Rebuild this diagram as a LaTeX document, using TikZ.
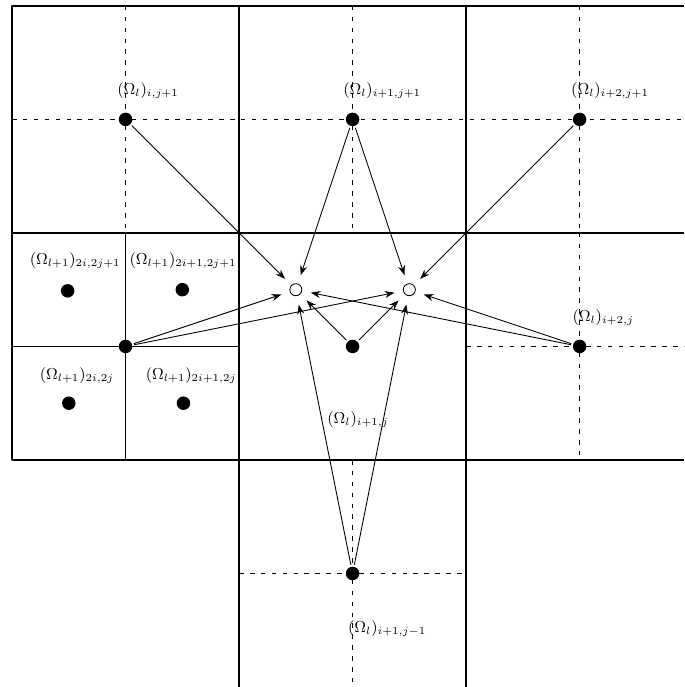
\documentclass[tikz,border=0pt]{standalone}
\usepackage{amsmath,amssymb}
\usepackage{tikz}
\usetikzlibrary{arrows.meta}

\begin{document}
\begin{tikzpicture}[
    x=4.54cm,
    y=4.54cm,
    every path/.style={line join=round},
    cellline/.style={black,line width=0.85pt},
    axisline/.style={black,line width=0.8pt,dash pattern=on 2.6pt off 3.6pt},
    cellpt/.style={circle,fill=black,inner sep=0pt,minimum size=0.27cm},
    newpt/.style={circle,draw=black,line width=0.5pt,fill=white,inner sep=0pt,minimum size=0.24cm},
    celllabel/.style={inner sep=0pt,font=\fontsize{9}{11}\selectfont},
    interp/.style={-{Stealth[length=5.5pt,width=4pt]},line width=0.5pt,shorten <=1pt,shorten >=5pt}
  ]
    \useasboundingbox (-0.053,0) rectangle (2.960,3.026);

    % Coarse cells of level l and the refined cell of level l+1.
    \draw[cellline] (2.96,3) -- (0,3) -- (0,1) -- (2.96,1);
    \draw[cellline] (0,2) -- (2.96,2);
    \draw[cellline] (1,3) -- (1,0);
    \draw[cellline] (2,3) -- (2,0);
    \draw[cellline] (0.5,2) -- (0.5,1);
    \draw[cellline] (0,1.5) -- (1,1.5);

    % Dashed axes through the coarse cell centres.
    \draw[axisline] (0,2.5) -- (2.96,2.5);
    \foreach \x in {0.5,1.5,2.5}{%
      \draw[axisline] (\x,3) -- (\x,2);
    }
    \draw[axisline] (2,1.5) -- (2.96,1.5);
    \draw[axisline] (2.5,2) -- (2.5,1);
    \draw[axisline] (1,0.5) -- (2,0.5);
    \draw[axisline] (1.5,1) -- (1.5,0);

    % Coarse points.
    \node[cellpt] (u0) at (0.5,2.5) {};
    \node[cellpt] (u1) at (1.5,2.5) {};
    \node[cellpt] (u2) at (2.5,2.5) {};
    \node[cellpt] (jn) at (0.5,1.5) {};
    \node[cellpt] (ctr) at (1.5,1.5) {};
    \node[cellpt] (rt) at (2.5,1.5) {};
    \node[cellpt] (dn) at (1.5,0.5) {};

    % Fine points in the refined cell.
    \foreach \x/\y/\n in {0.245/1.745/a,0.75/1.75/b,0.25/1.25/c,0.755/1.25/d}{%
      \node[cellpt] (f\n) at (\x,\y) {};
    }

    % Points to be interpolated.
    \node[newpt] (oL) at (1.25,1.75) {};
    \node[newpt] (oR) at (1.75,1.75) {};

    % Interpolation stencil.
    \foreach \src/\dst in {u0/oL,u1/oL,u1/oR,u2/oR,jn/oL,jn/oR,ctr/oL,ctr/oR,rt/oL,rt/oR,dn/oL,dn/oR}{%
      \draw[interp] (\src) -- (\dst);
    }

    % Labels.
    \node[celllabel] (lu0) at (0.599,2.626) {$(\Omega_l)_{i,j+1}$};
    \node[celllabel] (lu1) at (1.630,2.626) {$(\Omega_l)_{i+1,j+1}$};
    \node[celllabel] (lu2) at (2.634,2.626) {$(\Omega_l)_{i+2,j+1}$};
    \node[celllabel] (lfa) at (0.278,1.877) {$(\Omega_{l+1})_{2i,2j+1}$};
    \node[celllabel] (lfb) at (0.753,1.877) {$(\Omega_{l+1})_{2i+1,2j+1}$};
    \node[celllabel] (lfc) at (0.286,1.370) {$(\Omega_{l+1})_{2i,2j}$};
    \node[celllabel] (lfd) at (0.789,1.370) {$(\Omega_{l+1})_{2i+1,2j}$};
    \node[celllabel] (lctr) at (1.524,1.176) {$(\Omega_l)_{i+1,j}$};
    \node[celllabel] (lrt) at (2.604,1.626) {$(\Omega_l)_{i+2,j}$};
    \node[celllabel] (ldn) at (1.652,0.256) {$(\Omega_l)_{i+1,j-1}$};
\end{tikzpicture}
\end{document}
